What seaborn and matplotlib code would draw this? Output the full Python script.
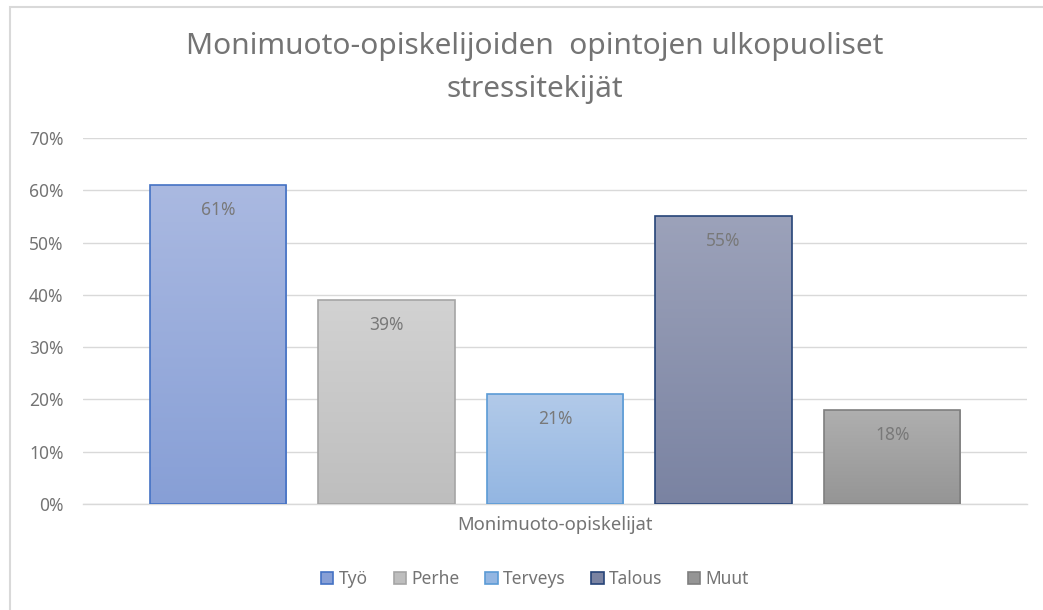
import numpy as np
import pandas as pd
import matplotlib
matplotlib.use("Agg")
import matplotlib.pyplot as plt
from matplotlib.colors import LinearSegmentedColormap
from matplotlib.patches import Rectangle
import seaborn as sns

# data
categories = ["Työ", "Perhe", "Terveys", "Talous", "Muut"]
values = [0.61, 0.39, 0.21, 0.55, 0.18]
group_label = "Monimuoto-opiskelijat"
title = "Monimuoto-opiskelijoiden  opintojen ulkopuoliset\nstressitekijät"

# gradient fills (top, bottom) and edge colours
top_colors = ["#aab9e1", "#d2d2d2", "#b2cae9", "#9ca2ba", "#afafaf"]
bottom_colors = ["#879fd6", "#bebebe", "#93b6e2", "#7a83a2", "#959595"]
edge_colors = ["#4472c4", "#a5a5a5", "#5b9bd5", "#264478", "#7f7f7f"]

df = pd.DataFrame({"category": categories, "value": values})

sns.set_theme(style="white")
plt.rcParams["font.family"] = ["Noto Sans", "DejaVu Sans"]
text_col = "#747474"

fig = plt.figure(figsize=(10.43, 6.10), dpi=100)
ax = fig.add_axes([0.0796, 0.1738, 0.9051, 0.6000])

sns.barplot(data=df, x="category", y="value", order=categories,
            width=0.81, color="white", ax=ax, zorder=3)

ax.set_xlim(-0.80, 4.80)
ax.set_ylim(0, 0.70)
ax.set_yticks(np.arange(0, 0.71, 0.1))
ax.set_yticklabels([f"{int(round(t*100))}%" for t in np.arange(0, 0.71, 0.1)],
                   color=text_col, fontsize=12.5)
ax.tick_params(axis="y", length=0, pad=14)
ax.set_xticks([])
ax.grid(axis="y", color="#d9d9d9", linewidth=1.0, zorder=0)
ax.set_axisbelow(True)
for s in ["left", "right", "top"]:
    ax.spines[s].set_visible(False)
ax.spines["bottom"].set_color("#d9d9d9")
ax.spines["bottom"].set_linewidth(1.0)
ax.set_ylabel("")
ax.set_xlabel(group_label, color=text_col, fontsize=13.3, labelpad=9)

# gradient fill for each bar
for patch, v, c_top, c_bot, ec in zip(ax.patches, values, top_colors,
                                      bottom_colors, edge_colors):
    x0, y0 = patch.get_x(), patch.get_y()
    w, h = patch.get_width(), patch.get_height()
    patch.set_facecolor("none")
    patch.set_edgecolor(ec)
    patch.set_linewidth(1.2)
    patch.set_zorder(4)
    cmap = LinearSegmentedColormap.from_list("g", [c_bot, c_top])
    grad = np.linspace(0, 1, 256).reshape(-1, 1)
    im = ax.imshow(grad, cmap=cmap, aspect="auto", origin="lower",
                   extent=[x0, x0 + w, y0, y0 + h], zorder=3)
    im.set_clip_path(patch)
    ax.annotate(f"{int(round(v*100))}%", (x0 + w / 2, v), xytext=(0, -18),
                textcoords="offset points", ha="center", va="center",
                fontsize=12.5, color="#797979", zorder=5)
ax.set_xlim(-0.80, 4.80)
ax.set_ylim(0, 0.70)

fig.suptitle(title, x=0.513, y=0.947, fontsize=21.5, color=text_col,
             va="top", linespacing=1.6)

handles = [Rectangle((0, 0), 1, 1, facecolor=b, edgecolor=e, linewidth=1.2)
           for b, e in zip(bottom_colors, edge_colors)]
fig.legend(handles, categories, loc="center", bbox_to_anchor=(0.513, 0.051),
           ncol=5, frameon=False, fontsize=12.5, handlelength=0.7,
           handleheight=0.7, handletextpad=0.3, columnspacing=1.5,
           labelcolor=text_col)

# outer chart frame (only top/left edges visible in the crop)
fig.patches.append(Rectangle((10 / 1043, -0.05), 1.1, 1.05 - 7 / 610,
                             transform=fig.transFigure, fill=False,
                             edgecolor="#d9d9d9", linewidth=1.5))

fig.savefig("out.png", dpi=100)
